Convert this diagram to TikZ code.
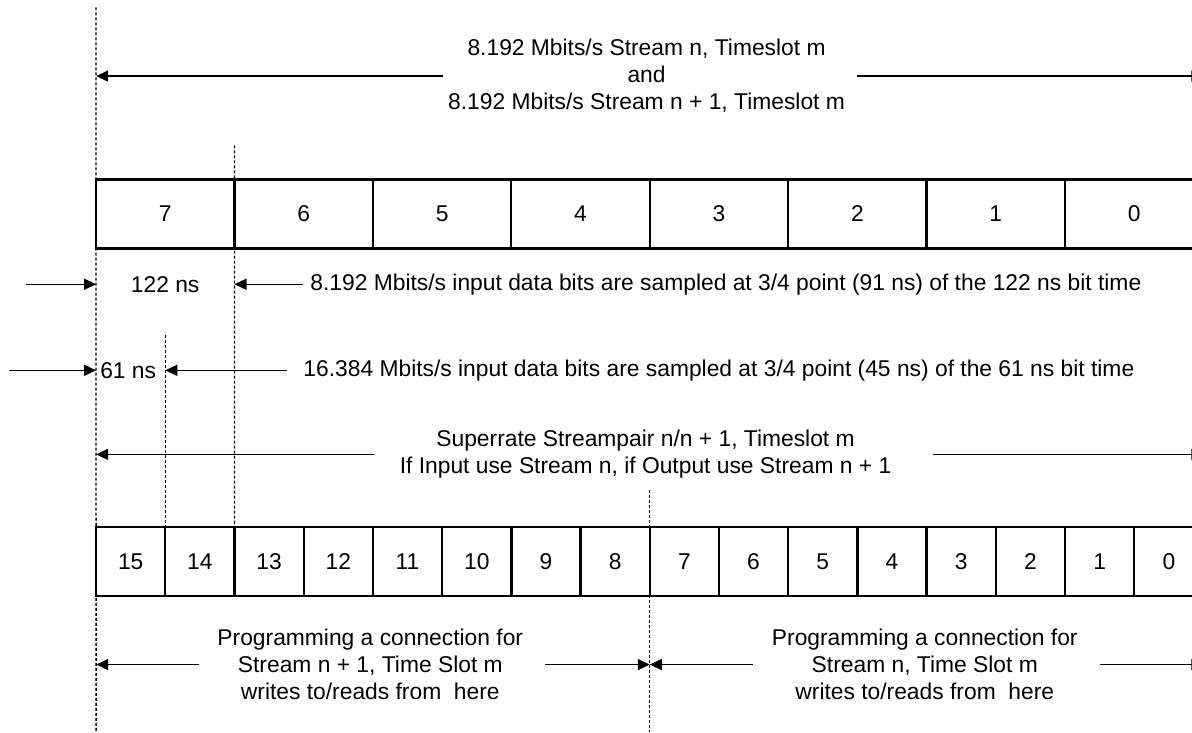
\documentclass[tikz,border=0pt]{standalone}
\usepackage{fontspec}
\setmainfont{Liberation Sans}
\usetikzlibrary{arrows.meta,positioning,calc}
\tikzset{
  bitcell/.style={draw,line width=2.3pt,minimum height=69pt,inner sep=0pt,outer sep=0pt},
  guide/.style={line width=1.3pt,dash pattern=on 3pt off 2pt},
  dimarrow/.style={line width=1.4pt,-{Triangle[length=12pt,width=11pt]}},
  lbl/.style={align=center,inner sep=0pt}
}

\begin{document}
\begin{tikzpicture}[x=1pt,y=-1pt,font=\fontsize{22.8}{27}\selectfont]
    \useasboundingbox (0,0) rectangle (1191,732);
    \foreach \b [count=\i from 0] in {7,...,0}
      \node[bitcell,minimum width=138.3pt] (t\b) at (165.15+\i*138.3,213.8) {\b};
    \foreach \b [count=\i from 0] in {15,...,0}
      \node[bitcell,minimum width=69.15pt] (b\b) at (130.6+\i*69.15,561.2) {\b};

    \draw[guide] ([yshift=172pt]t7.north west) -- ([yshift=-136pt]b15.south west);
    \draw[guide] ([yshift=34pt]t6.north west) -- (b13.north west);
    \draw[guide] ([yshift=192pt]b14.north west) -- (b14.north west);
    \draw[guide] ([yshift=37pt]b7.north west) -- ([yshift=-136pt]b7.south west);

    \node[lbl] (rate8) at (646,76) {8.192 Mbits/s Stream n, Timeslot m\\and\\8.192 Mbits/s Stream n + 1, Timeslot m};
    \draw[dimarrow] ([xshift=-5pt]rate8.west) -- (rate8.west -| t7.west);
    \draw[dimarrow] ([xshift=12pt]rate8.east) -- (rate8.east -| t0.east);

    \coordinate (in8) at (26,284);
    \node[lbl] (w122) at (165,284) {122 ns};
    \node[lbl,anchor=west] (samp8) at (310,284) {8.192 Mbits/s input data bits are sampled at 3/4 point (91 ns) of the 122 ns bit time};
    \draw[dimarrow] (in8) -- (in8 -| t7.west);
    \draw[dimarrow] ([xshift=-7pt]samp8.west) -- (samp8.west -| t6.west);

    \coordinate (in16) at (9,370);
    \node[lbl,anchor=west] (w61) at (100,370) {61 ns};
    \node[lbl,anchor=west] (samp16) at (303,370) {16.384 Mbits/s input data bits are sampled at 3/4 point (45 ns) of the 61 ns bit time};
    \draw[dimarrow] (in16) -- (in16 -| b15.west);
    \draw[dimarrow] ([xshift=-16pt]samp16.west) -- (samp16.west -| b14.west);

    \node[lbl] (pair) at (645,454) {Superrate Streampair n/n + 1, Timeslot m\\If Input use Stream n, if Output use Stream n + 1};
    \draw[dimarrow] ([xshift=-26pt]pair.west) -- (pair.west -| b15.west);
    \draw[dimarrow] ([xshift=41pt]pair.east) -- (pair.east -| b0.east);

    \node[lbl] (prog1) at (370,664) {Programming a connection for\\Stream n + 1, Time Slot m\\writes to/reads from\ \ here};
    \node[lbl] (prog0) at (924,664) {Programming a connection for\\Stream n, Time Slot m\\writes to/reads from\ \ here};
    \draw[dimarrow] ([xshift=-18pt]prog1.west) -- (prog1.west -| b15.west);
    \draw[dimarrow] ([xshift=22pt]prog1.east) -- (prog1.east -| b7.west);
    \draw[dimarrow] ([xshift=-19pt]prog0.west) -- (prog0.west -| b7.west);
    \draw[dimarrow] ([xshift=22pt]prog0.east) -- (prog0.east -| b0.east);
  \end{tikzpicture}
\end{document}
